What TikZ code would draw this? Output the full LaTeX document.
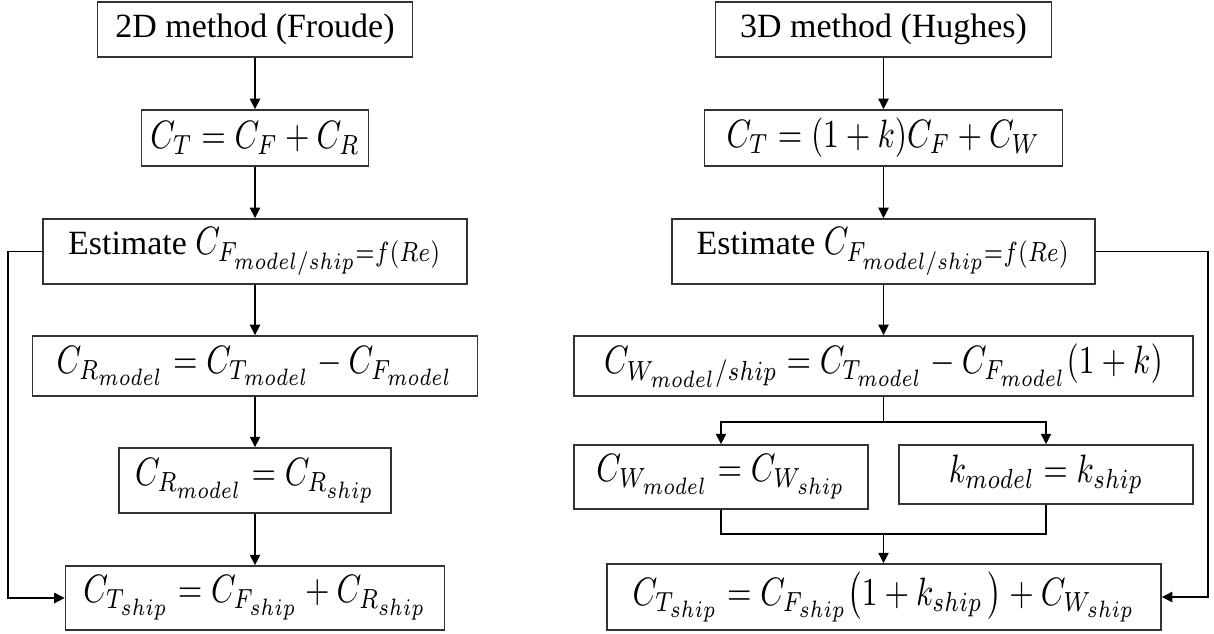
\documentclass[tikz,border=0pt]{standalone}
\usepackage{fontspec}
\usepackage{graphicx}
\setmainfont{Liberation Serif}
\usetikzlibrary{arrows.meta}
\newcommand{\msz}{\fontsize{10}{12}\selectfont}
\newcommand{\tsz}{\fontsize{9.7}{11.6}\selectfont}
\newcommand{\sbx}[1]{\hbox{\fontsize{6}{7}\selectfont$#1$}}
\newcommand{\mth}[1]{\scalebox{0.9}[1.13]{$#1$}}
\tikzset{
  box/.style 2 args={draw=black!80, line width=0.43pt, inner sep=0pt, fill=white,
    minimum width=#1*0.2857pt, minimum height=#2*0.2857pt, font=\msz},
  arr/.style={draw=black, line width=0.43pt, -{Triangle[length=3pt,width=2.9pt]}},
  ln/.style={draw=black, line width=0.43pt},
}
\begin{document}
\begin{tikzpicture}[x=0.2857pt,y=-0.2857pt]
\useasboundingbox (0,0) rectangle (1214,634);
% left column
\node[box={315}{55}, font=\tsz] (L1) at (255,29.5) {2D method (Froude)};
\node[box={227}{56}] (L2) at (255,138) {\mth{C_T = C_F + C_R}};
\node[box={424}{65}, font=\tsz] (L3) at (255,251.5) {Estimate {\msz\mth{C_{F_{\sbx{model/ship}}=f(Re)}}}};
\node[box={445}{60}] (L4) at (255,366) {\mth{C_{R_{\sbx{model}}} = C_{T_{\sbx{model}}} - C_{F_{\sbx{model}}}}};
\node[box={272}{65}] (L5) at (255,480.5) {\mth{C_{R_{\sbx{model}}} = C_{R_{\sbx{ship}}}}};
\node[box={379}{64}] (L6) at (255,598) {\mth{C_{T_{\sbx{ship}}} = C_{F_{\sbx{ship}}} + C_{R_{\sbx{ship}}}}};
\draw[arr] (L1) -- (L2);
\draw[arr] (L2) -- (L3);
\draw[arr] (L3) -- (L4);
\draw[arr] (L4) -- (L5);
\draw[arr] (L5) -- (L6);
\coordinate (lfb) at (8,251.5);
\draw[arr] (L3.west) -- (lfb) |- (L6.west);
% right column
\node[box={336}{55}, font=\tsz] (R1) at (883.5,29.5) {3D method (Hughes)};
\node[box={358}{56}] (R2) at (883.5,138) {\mth{C_T = (1+k)C_F + C_W}};
\node[box={423}{65}, font=\tsz] (R3) at (883.5,251.5) {Estimate {\msz\mth{C_{F_{\sbx{model/ship}}=f(Re)}}}};
\node[box={619}{60}] (R4) at (883.5,366) {\mth{C_{W_{\sbx{model}}/ship} = C_{T_{\sbx{model}}} - C_{F_{\sbx{model}}}(1+k)}};
\node[box={294}{64}] (R5a) at (721,477) {\mth{C_{W_{\sbx{model}}} = C_{W_{\sbx{ship}}}}};
\node[box={294}{59}] (R5b) at (1046,474.5) {\mth{k_{model} = k_{ship}}};
\node[box={554}{66}] (R6) at (884,597) {\mth{C_{T_{\sbx{ship}}} = C_{F_{\sbx{ship}}}\bigl(1 + k_{ship}\,\bigr) + C_{W_{\sbx{ship}}}}};
\draw[arr] (R1) -- (R2);
\draw[arr] (R2) -- (R3);
\draw[arr] (R3.south) -- (R4.north);
\coordinate (split) at (883.5,422);
\draw[ln] (R4.south) -- (split);
\draw[arr] (split) -| (R5a.north);
\draw[arr] (split) -| (R5b.north);
\coordinate (merge) at (883.5,534);
\draw[ln] (R5a.south) |- (merge);
\draw[ln] (R5b.south) |- (merge);
\draw[arr] (merge) -- (R6.north -| merge);
\coordinate (rfb) at (1208,251.5);
\draw[arr] (R3.east) -- (rfb) |- (R6.east);
\end{tikzpicture}
\end{document}
